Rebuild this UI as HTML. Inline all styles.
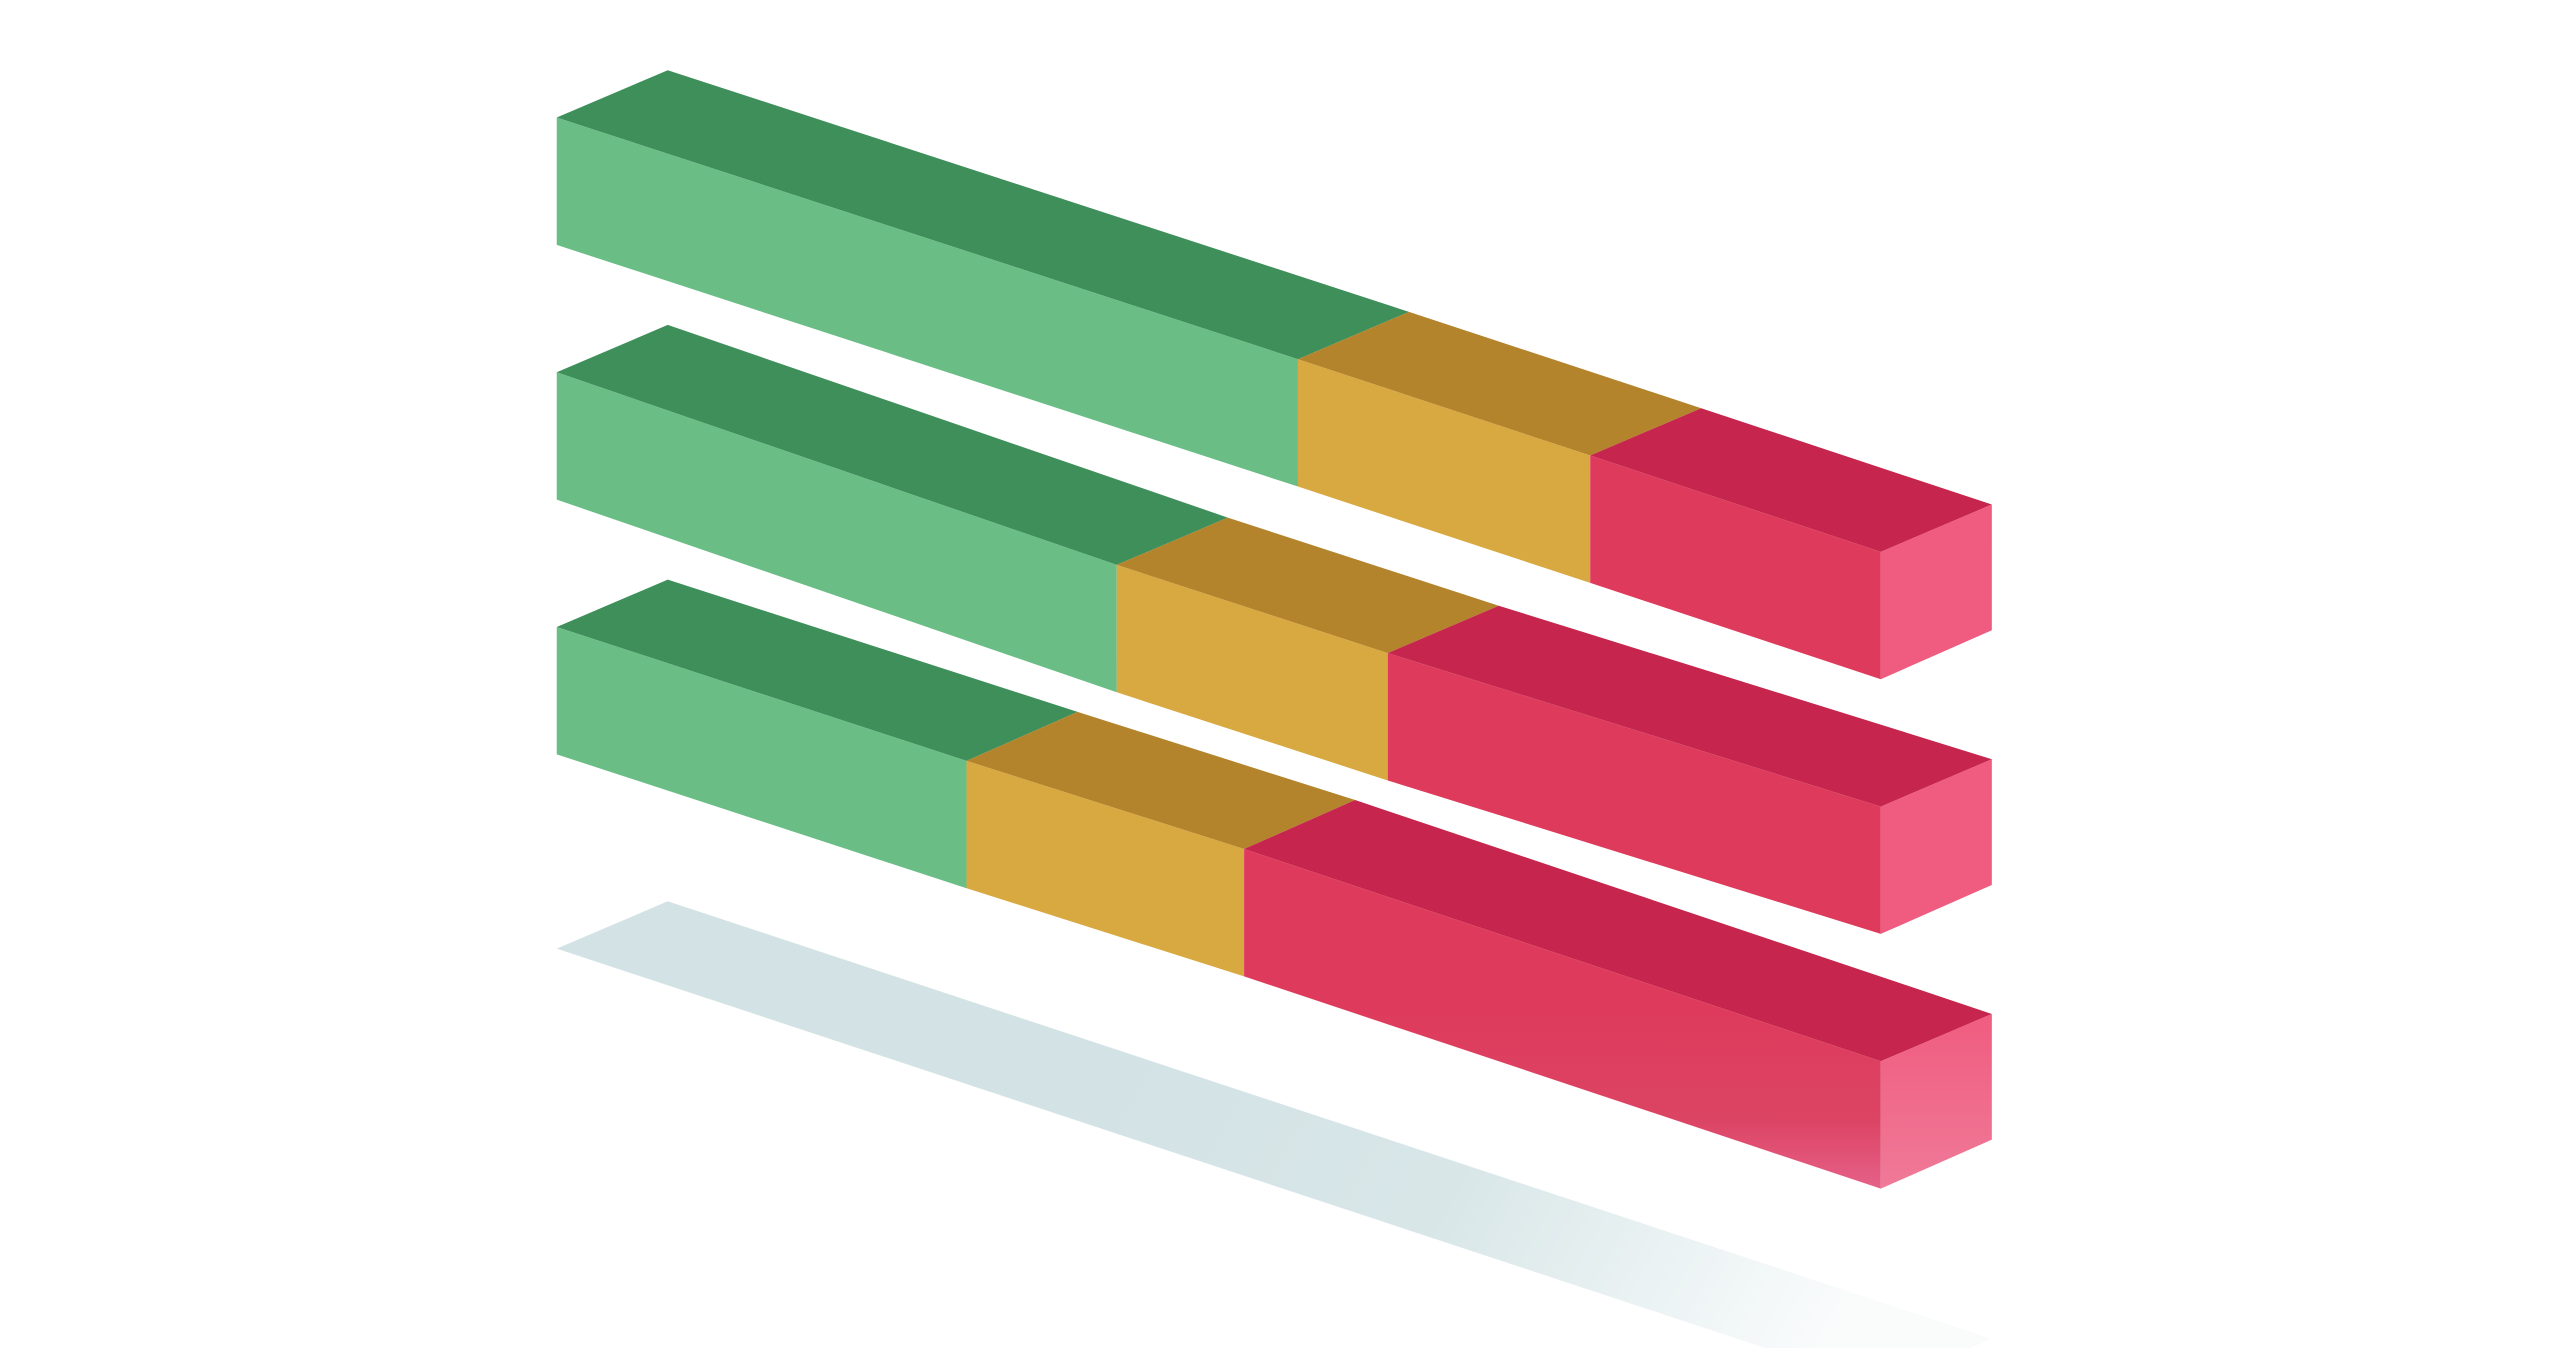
<!DOCTYPE html>
<html><head><meta charset="utf-8"><style>
html,body{margin:0;padding:0;background:#fff;}
svg{display:block;}
</style></head><body>
<svg width="2560" height="1348" viewBox="0 0 1568 825.6" preserveAspectRatio="none" xmlns="http://www.w3.org/2000/svg">
<defs>
<linearGradient id="sh" x1="700" y1="640" x2="1100" y2="860" gradientUnits="userSpaceOnUse">
<stop offset="0" stop-color="#d3e3e5"/>
<stop offset="0.45" stop-color="#d8e6e8"/>
<stop offset="1" stop-color="#fafcfc"/>
</linearGradient>
<linearGradient id="fd" x1="0" y1="620" x2="0" y2="730" gradientUnits="userSpaceOnUse">
<stop offset="0" stop-color="#de3b5c"/>
<stop offset="0.6" stop-color="#dc4464"/>
<stop offset="1" stop-color="#e6628a"/>
</linearGradient>
<linearGradient id="ed" x1="0" y1="620" x2="0" y2="730" gradientUnits="userSpaceOnUse">
<stop offset="0" stop-color="#f05c80"/>
<stop offset="1" stop-color="#f07a98"/>
</linearGradient>
</defs>
<polygon points="341,581 409,552 1220,820 1152,849" fill="url(#sh)"/>

<g>
<polygon points="341,72 795,220 863,191 409,43" fill="#3f8f5b"/>
<polygon points="795,220 974,279 1042,250 863,191" fill="#b3842c"/>
<polygon points="974,279 1152,338 1220,309 1042,250" fill="#c6254d"/>
<polygon points="341,72 795,220 795,298 341,150" fill="#69bd85"/>
<polygon points="795,220 974,279 974,357 795,298" fill="#d8a841"/>
<polygon points="974,279 1152,338 1152,416 974,357" fill="#de3b5c"/>
<polygon points="1152,338 1220,309 1220,386 1152,416" fill="#f05c80"/>
</g>
<g>
<polygon points="341,228 684,346 752,317 409,199" fill="#3f8f5b"/>
<polygon points="684,346 850,400 918,371 752,317" fill="#b3842c"/>
<polygon points="850,400 1152,494 1220,465 918,371" fill="#c6254d"/>
<polygon points="341,228 684,346 684,424 341,306" fill="#69bd85"/>
<polygon points="684,346 850,400 850,478 684,424" fill="#d8a841"/>
<polygon points="850,400 1152,494 1152,572 850,478" fill="#de3b5c"/>
<polygon points="1152,494 1220,465 1220,542 1152,572" fill="#f05c80"/>
</g>
<g>
<polygon points="341,384 592,466 660,436 409,355" fill="#3f8f5b"/>
<polygon points="592,466 762,520 830,490 660,436" fill="#b3842c"/>
<polygon points="762,520 1152,650 1220,621 830,490" fill="#c6254d"/>
<polygon points="341,384 592,466 592,544 341,462" fill="#69bd85"/>
<polygon points="592,466 762,520 762,598 592,544" fill="#d8a841"/>
<polygon points="762,520 1152,650 1152,728 762,598" fill="url(#fd)"/>
<polygon points="1152,650 1220,621 1220,698 1152,728" fill="url(#ed)"/>
</g>
</svg>
</body></html>
